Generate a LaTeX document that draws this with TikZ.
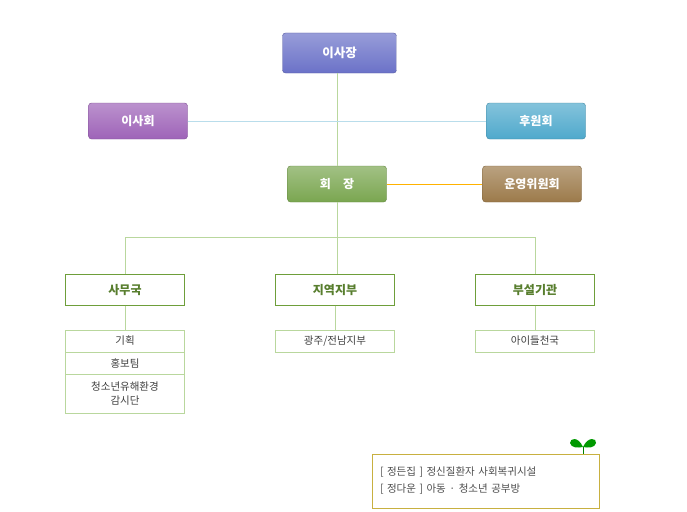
\documentclass[tikz,border=0pt]{standalone}
\usepackage{fontspec}
\setmainfont{Noto Sans CJK KR}
\begin{document}
\begin{tikzpicture}[x=1pt,y=-1pt,
 top/.style={rounded corners=3pt,minimum width=114pt,minimum height=40pt,text=white,font=\bfseries\fontsize{12.5}{14}\selectfont,draw=#1!80!black,top color=#1!70!white,bottom color=#1},
 mid/.style={rounded corners=3pt,minimum width=99pt,minimum height=36pt,text=white,font=\bfseries\fontsize{12}{14}\selectfont,draw=#1!80!black,top color=#1!70!white,bottom color=#1},
 dept/.style={draw=grn,fill=white,minimum width=119pt,minimum height=31pt,font=\bfseries\fontsize{12}{14}\selectfont,text=grn!80!black},
 sub/.style={draw=lgrn,fill=white,minimum width=119pt,font=\fontsize{10.5}{14}\selectfont,text=black!75,align=center,inner sep=0pt},
 ln/.style={draw=lgrn,line width=0.6pt}]
\definecolor{grn}{HTML}{6E9E3A}
\definecolor{lgrn}{HTML}{B9D79D}
\definecolor{cA}{HTML}{6B72C8}
\definecolor{cB}{HTML}{9E63B8}
\definecolor{cC}{HTML}{4FA9CC}
\definecolor{cD}{HTML}{7AA650}
\definecolor{cE}{HTML}{9C7A4A}
\definecolor{legc}{HTML}{C8B040}
\useasboundingbox (0,0) rectangle (687,511);
\node[top=cA] (ceo) at (339.5,53) {이사장};
\node[mid=cB] (board) at (138,121) {이사회};
\node[mid=cC] (sup) at (536,121) {후원회};
\node[mid=cD] (pres) at (337,184) {회\quad 장};
\node[mid=cE] (comm) at (532,184) {운영위원회};
\coordinate (j) at (337,237);
\coordinate (jl) at (125,237);
\coordinate (jr) at (535,237);
\node[dept] (d1) at (125,290) {사무국};
\node[dept] (d2) at (335,290) {지역지부};
\node[dept] (d3) at (535,290) {부설기관};
\node[sub,minimum height=22pt] (s1) at (125,341) {기획};
\node[sub,minimum height=22pt] (s2) at (125,363) {홍보팀};
\node[sub,minimum height=39pt] (s3) at (125,393.5) {청소년유해환경\\감시단};
\node[sub,minimum height=22pt] (r1) at (335,341) {광주/전남지부};
\node[sub,minimum height=22pt] (b1) at (535,341) {아이들천국};
\draw[ln] (pres.north |- ceo.south) -- (pres.north);
\draw[draw=cC!40!white,line width=0.6pt] (board.east) -- (sup.west);
\draw[draw=orange!60!yellow,line width=0.6pt] (pres.east) -- (comm.west);
\draw[ln] (pres.south) -- (j);
\draw[ln] (jl) -- (jr);
\draw[ln] (jl) -- (d1.north);
\draw[ln] (j) -- (j |- d2.north);
\draw[ln] (jr) -- (d3.north);
\draw[ln] (d1.south) -- (s1.north);
\draw[ln] (d2.south) -- (r1.north);
\draw[ln] (d3.south) -- (b1.north);
\node[draw=legc,line width=0.8pt,minimum width=227pt,minimum height=54pt,align=left,text=black!70,font=\fontsize{10.5}{17}\selectfont,inner sep=8pt,text width=211pt] (leg) at (485.5,481) {{[} 정든집 {]} 정신질환자 사회복귀시설\\{}{[} 정다운 {]} 아동 · 청소년 공부방};
\draw[green!50!black,line width=1pt] (583,454) -- (583,447);
\fill[green!60!black] (583,447) .. controls (578,436) and (570,438) .. (570,443) .. controls (571,448) and (578,448) .. (583,447);
\fill[green!60!black] (583,447) .. controls (588,436) and (597,438) .. (596,443) .. controls (595,448) and (588,448) .. (583,447);
\end{tikzpicture}
\end{document}
